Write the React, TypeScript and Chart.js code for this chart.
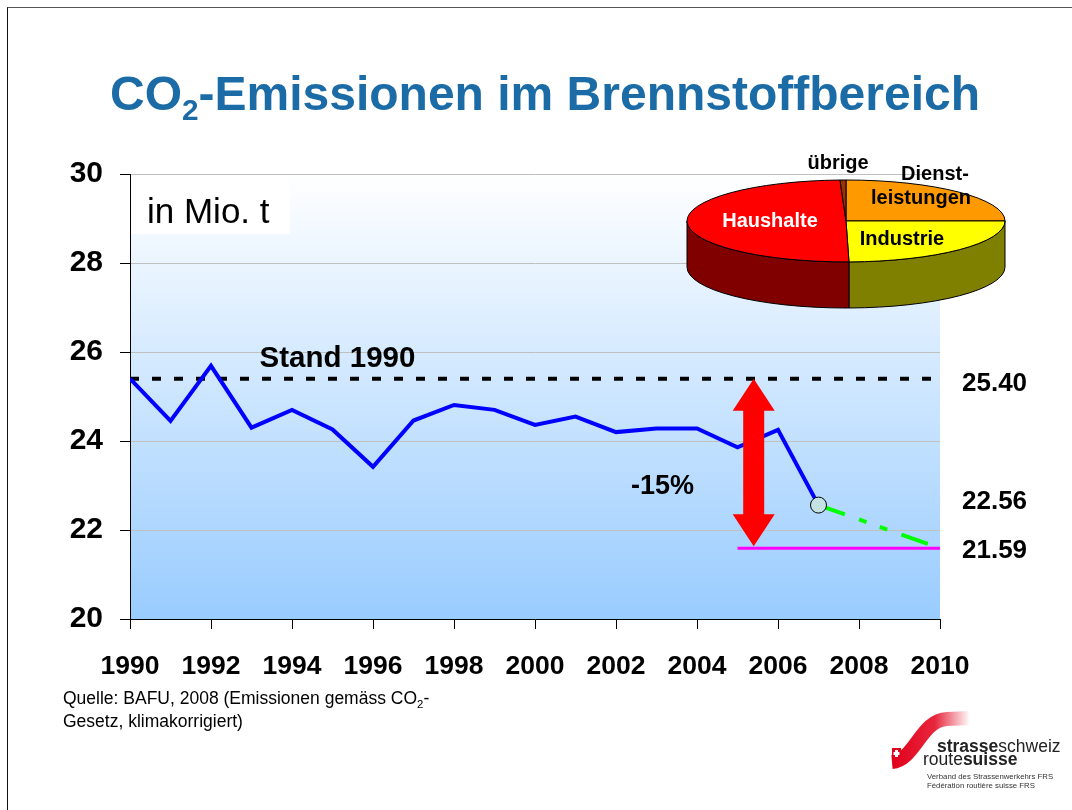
import React, { useEffect, useRef } from 'react';
import { Chart, registerables } from 'chart.js';

Chart.register(...registerables);

const FONT = '"Liberation Sans", Arial, Helvetica, sans-serif';
const TITLE_COLOR = '#1b6ca6';

// ---- line chart data ----
const years = [1990, 1991, 1992, 1993, 1994, 1995, 1996, 1997, 1998, 1999, 2000, 2001, 2002, 2003, 2004, 2005, 2006, 2007];
const emissions = [25.4, 24.45, 25.69, 24.3, 24.7, 24.26, 23.42, 24.46, 24.81, 24.7, 24.36, 24.55, 24.2, 24.28, 24.28, 23.86, 24.25, 22.56];
const targetYears = [2007, 2010];
const targetValues = [22.56, 21.59];
const baselineYears = [1990, 2010];
const baselineValue = 25.4;
const goalYears = [2005, 2010];
const goalValue = 21.59;
const arrowYear = 2005.4;
const arrowFrom = 25.4;
const arrowTo = 21.59;
const rightLabels = ['25.40', '22.56', '21.59'];
const rightLabelValues = [25.4, 22.56, 21.59];
const xMin = 1990;
const xMax = 2010;
const xStep = 2;
const yMin = 20;
const yMax = 30;
const yStep = 2;

// ---- pie data ----
const pieLabels = ['Dienstleistungen', 'Industrie', 'Haushalte', 'übrige'];
const pieValues = [25, 24.7, 49.7, 0.6];
const pieTopColors = ['#ff9900', '#ffff00', '#ff0000', '#993300'];
const pieSideColors = ['#995c00', '#808000', '#800000', '#5c1f00'];

const slidePlugin = {
  id: 'slideDecor',
  beforeDraw(chart: any) {
    const { ctx, chartArea } = chart;
    const { left, top, right, bottom } = chartArea;
    ctx.save();
    const g = ctx.createLinearGradient(0, top, 0, bottom);
    g.addColorStop(0, '#ffffff');
    g.addColorStop(1, '#99ccff');
    ctx.fillStyle = g;
    ctx.fillRect(left, top, right - left, bottom - top);
    // unit box
    ctx.fillStyle = '#ffffff';
    ctx.fillRect(left + 1, top + 1, 159, 59);
    ctx.fillStyle = '#000';
    ctx.font = `35px ${FONT}`;
    ctx.textAlign = 'left';
    ctx.textBaseline = 'alphabetic';
    ctx.fillText('in Mio. t', left + 17, top + 49);
    ctx.restore();
  },
  afterDatasetsDraw(chart: any) {
    const { ctx, chartArea, scales } = chart;
    const xs = scales.x;
    const ys = scales.y;
    ctx.save();
    // red double arrow
    const ax = xs.getPixelForValue(arrowYear);
    const y0 = ys.getPixelForValue(arrowFrom);
    const y1 = ys.getPixelForValue(arrowTo) - 2;
    const hw = 21, sw = 10.5, hl = 32;
    ctx.beginPath();
    ctx.moveTo(ax, y0);
    ctx.lineTo(ax + hw, y0 + hl);
    ctx.lineTo(ax + sw, y0 + hl);
    ctx.lineTo(ax + sw, y1 - hl);
    ctx.lineTo(ax + hw, y1 - hl);
    ctx.lineTo(ax, y1);
    ctx.lineTo(ax - hw, y1 - hl);
    ctx.lineTo(ax - sw, y1 - hl);
    ctx.lineTo(ax - sw, y0 + hl);
    ctx.lineTo(ax - hw, y0 + hl);
    ctx.closePath();
    ctx.fillStyle = '#ff0000';
    ctx.fill();

    // Stand 1990 label
    ctx.fillStyle = '#000';
    ctx.font = `bold 29.5px ${FONT}`;
    ctx.textAlign = 'left';
    ctx.textBaseline = 'alphabetic';
    ctx.fillText('Stand 1990', xs.getPixelForValue(1993.2), ys.getPixelForValue(baselineValue) - 12);

    // -15%
    ctx.font = `bold 27px ${FONT}`;
    ctx.textAlign = 'center';
    ctx.textBaseline = 'middle';
    ctx.fillText('-15%', xs.getPixelForValue(2003.15), ys.getPixelForValue(22.97));

    // right labels
    const offs = [5, -3, 3];
    ctx.font = `bold 26px ${FONT}`;
    ctx.textAlign = 'left';
    rightLabels.forEach((t, i) => {
      ctx.fillText(t, chartArea.right + 22, ys.getPixelForValue(rightLabelValues[i]) + offs[i]);
    });
    ctx.restore();
  },
};

const pie3dPlugin = {
  id: 'pie3d',
  beforeDatasetsDraw(chart: any) {
    const { ctx, chartArea: a } = chart;
    const meta = chart.getDatasetMeta(0);
    const rx = (a.right - a.left) / 2;
    const cx = a.left + rx;
    const h = a.bottom - a.top;
    const ry = h * 0.32;
    const depth = h - 2 * ry;
    const cy = a.top + ry;
    const colors = chart.data.datasets[0].backgroundColor;
    ctx.save();
    ctx.lineWidth = 1;
    ctx.strokeStyle = '#000';
    ctx.lineJoin = 'round';
    const angles = meta.data.map((arc: any) => arc.getProps(['startAngle', 'endAngle'], true));
    // side walls (front half only)
    angles.forEach((an: any, i: number) => {
      const v0 = Math.max(an.startAngle, 0);
      const v1 = Math.min(an.endAngle, Math.PI);
      if (v1 <= v0) return;
      ctx.beginPath();
      ctx.ellipse(cx, cy, rx, ry, 0, v0, v1, false);
      ctx.lineTo(cx + rx * Math.cos(v1), cy + depth + ry * Math.sin(v1));
      ctx.ellipse(cx, cy + depth, rx, ry, 0, v1, v0, true);
      ctx.closePath();
      ctx.fillStyle = pieSideColors[i];
      ctx.fill();
      ctx.stroke();
    });
    // top faces
    angles.forEach((an: any, i: number) => {
      ctx.beginPath();
      ctx.moveTo(cx, cy);
      ctx.ellipse(cx, cy, rx, ry, 0, an.startAngle, an.endAngle, false);
      ctx.closePath();
      ctx.fillStyle = colors[i];
      ctx.fill();
      ctx.stroke();
    });
    // labels
    ctx.font = `bold 20px ${FONT}`;
    ctx.textAlign = 'center';
    ctx.textBaseline = 'middle';
    ctx.fillStyle = '#000';
    ctx.fillText(pieLabels[3], cx - 8, cy - 57);
    ctx.fillText('Dienst-', cx + 89, cy - 46);
    ctx.fillText('leistungen', cx + 75, cy - 22);
    ctx.fillText(pieLabels[1], cx + 56, cy + 19);
    ctx.fillStyle = '#ffffff';
    ctx.fillText(pieLabels[2], cx - 76, cy + 1);
    ctx.restore();
    return false;
  },
};

export default function App() {
  const mainRef = useRef<HTMLCanvasElement>(null);
  const pieRef = useRef<HTMLCanvasElement>(null);

  useEffect(() => {
    Chart.defaults.font.family = FONT;
    const main = new Chart(mainRef.current as HTMLCanvasElement, {
      type: 'line',
      data: {
        datasets: [
          {
            label: '2007',
            data: [{ x: years[years.length - 1], y: emissions[emissions.length - 1] }],
            showLine: false,
            pointRadius: 8,
            pointBackgroundColor: '#c4e2e2',
            pointBorderColor: '#000000',
            pointBorderWidth: 1,
          },
          {
            label: 'Emissionen',
            data: years.map((x, i) => ({ x, y: emissions[i] })),
            borderColor: '#0000ff',
            borderWidth: 4,
            pointRadius: 0,
            tension: 0,
          },
          {
            label: 'Ziel',
            data: targetYears.map((x, i) => ({ x, y: targetValues[i] })),
            borderColor: '#00ff00',
            borderWidth: 4,
            borderDash: [28, 15, 8, 14, 8, 15],
            borderCapStyle: 'butt',
            pointRadius: 0,
          },
          {
            label: 'Stand 1990',
            data: baselineYears.map((x) => ({ x, y: baselineValue })),
            borderColor: '#000000',
            borderWidth: 4,
            borderDash: [9, 13],
            pointRadius: 0,
          },
          {
            label: 'Ziel 2010',
            data: goalYears.map((x) => ({ x, y: goalValue })),
            borderColor: '#ff00ff',
            borderWidth: 3,
            pointRadius: 0,
          },
        ],
      },
      options: {
        animation: false,
        responsive: false,
        layout: { padding: { left: 0, top: 174, right: 132, bottom: 0 } },
        plugins: { legend: { display: false }, tooltip: { enabled: false } },
        scales: {
          x: {
            type: 'linear',
            min: xMin,
            max: xMax,
            ticks: {
              stepSize: xStep,
              autoSkip: false,
              maxRotation: 0,
              color: '#000',
              padding: 22,
              font: { size: 26.5, weight: 'bold', family: FONT },
              callback: (v: any) => String(v),
            },
            grid: { drawOnChartArea: false, tickLength: 10, color: '#000' },
            border: { color: '#000', width: 1 },
            afterFit: (s: any) => { s.height = 191; },
          },
          y: {
            min: yMin,
            max: yMax,
            ticks: {
              stepSize: yStep,
              color: '#000',
              padding: 17,
              font: { size: 30, weight: 'bold', family: FONT },
            },
            grid: { color: '#c0c0c0', tickColor: '#000', tickLength: 10 },
            border: { color: '#000', width: 1 },
            afterFit: (s: any) => { s.width = 130; },
          },
        },
      } as any,
      plugins: [slidePlugin],
    });

    const pie = new Chart(pieRef.current as HTMLCanvasElement, {
      type: 'pie',
      data: {
        labels: pieLabels,
        datasets: [{ data: pieValues, backgroundColor: pieTopColors }],
      },
      options: {
        animation: false,
        responsive: false,
        layout: { padding: { left: 7, right: 15, top: 30, bottom: 12 } },
        plugins: { legend: { display: false }, tooltip: { enabled: false } },
      } as any,
      plugins: [pie3dPlugin],
    });

    return () => {
      main.destroy();
      pie.destroy();
    };
  }, []);

  return (
    <div style={{ position: 'absolute', left: 0, top: 0, width: 1072, height: 810, overflow: 'hidden', background: '#fff', fontFamily: FONT }}>
      <div style={{ position: 'absolute', left: 7, top: 7, width: 1072, height: 810, borderTop: '1px solid #555', borderLeft: '1px solid #111' }} />
      <canvas ref={mainRef} width={1072} height={810} style={{ position: 'absolute', left: 0, top: 0 }} />
      <canvas ref={pieRef} width={340} height={170} style={{ position: 'absolute', left: 680, top: 150 }} />
      <div style={{ position: 'absolute', left: 0, top: 70, width: 1090, textAlign: 'center', fontWeight: 'bold', fontSize: 48, lineHeight: '48px', color: TITLE_COLOR, whiteSpace: 'nowrap' }}>
        CO<span style={{ fontSize: '0.62em', position: 'relative', top: '0.35em' }}>2</span>-Emissionen im Brennstoffbereich
      </div>
      <div style={{ position: 'absolute', left: 63, top: 688, fontSize: 17.5, lineHeight: '21px', color: '#000', whiteSpace: 'nowrap' }}>
        Quelle: BAFU, 2008 (Emissionen gemäss CO<span style={{ fontSize: '0.65em', position: 'relative', top: '0.35em' }}>2</span>-
        <br />
        Gesetz, klimakorrigiert)
      </div>
      <svg width={90} height={60} style={{ position: 'absolute', left: 885, top: 710 }}>
        <defs>
          <linearGradient id="sw" x1="0" y1="0" x2="1" y2="0">
            <stop offset="0" stopColor="#e2001a" />
            <stop offset="0.55" stopColor="#e2001a" stopOpacity="0.85" />
            <stop offset="1" stopColor="#e2001a" stopOpacity="0" />
          </linearGradient>
        </defs>
        <path d="M7 52 C 30 50, 36 10, 62 9 L 85 8" fill="none" stroke="url(#sw)" strokeWidth={14} />
        <rect x={7} y={38} width={9} height={10} fill="#e2001a" />
        <rect x={10} y={40} width={3} height={7} fill="#fff" />
        <rect x={8.5} y={42} width={6} height={3} fill="#fff" />
      </svg>
      <div style={{ position: 'absolute', left: 937, top: 738, fontSize: 17.5, lineHeight: '17px', color: '#222', whiteSpace: 'nowrap' }}>
        <b>strasse</b>schweiz
      </div>
      <div style={{ position: 'absolute', left: 923, top: 751, fontSize: 17.5, lineHeight: '17px', color: '#222', whiteSpace: 'nowrap' }}>
        route<b>suisse</b>
      </div>
      <div style={{ position: 'absolute', left: 927, top: 772, fontSize: 7.8, lineHeight: '9px', color: '#333', whiteSpace: 'nowrap' }}>
        Verband des Strassenwerkehrs FRS
        <br />
        Fédération routière suisse FRS
      </div>
    </div>
  );
}
